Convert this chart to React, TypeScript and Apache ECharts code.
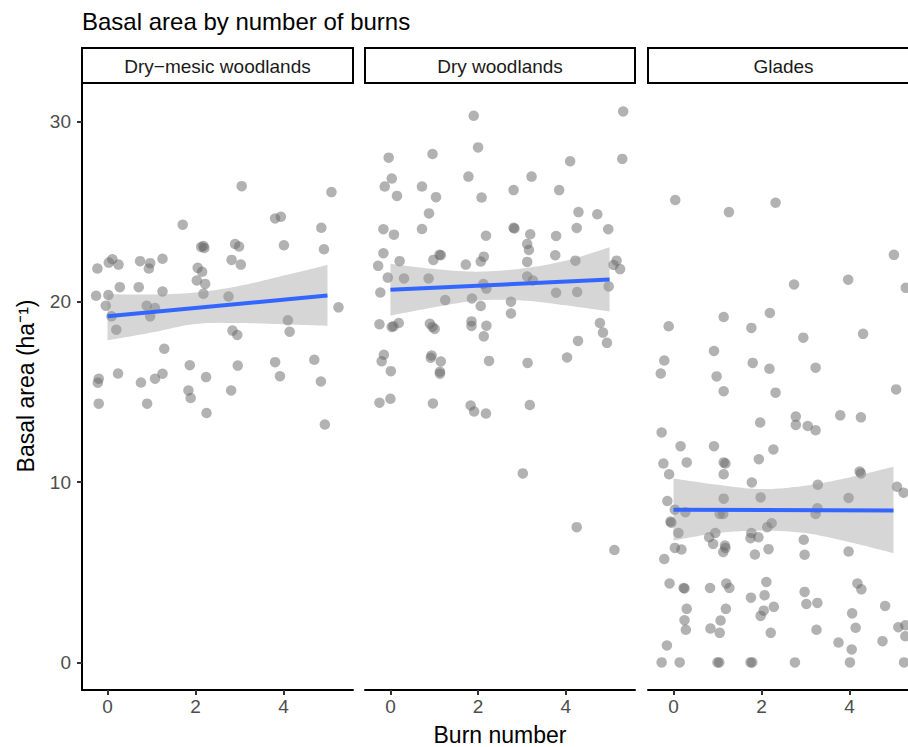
import React, { useEffect, useRef } from "react";
import * as echarts from "echarts";

// ---- Data ----
const panelNames = ["Dry−mesic woodlands", "Dry woodlands", "Glades"];
const xTicks = [0, 2, 4];
const yTicks = [0, 10, 20, 30];

// Dry-mesic woodlands
const burns1 = [3.05,5.09,1.71,3.81,3.94,4.86,2.13,2.18,2.20,2.90,2.99,4.01,4.92,-0.23,0.03,0.11,0.25,0.74,0.97,0.94,1.25,2.05,2.15,2.03,2.22,2.82,3.03,0.28,0.71,1.25,-0.26,0.02,2.18,2.75,-0.04,0.89,1.08,0.97,0.09,5.25,4.10,0.20,2.84,2.95,4.14,1.29,1.87,2.96,3.81,4.70,-0.20,-0.22,0.24,0.76,1.08,1.25,2.24,3.92,4.85,1.84,1.89,2.81,-0.20,0.90,2.25,4.94];
const basal1 = [26.41,26.08,24.27,24.62,24.71,24.10,23.04,23.09,22.98,23.20,23.06,23.13,22.91,21.84,22.17,22.36,22.06,22.25,22.14,21.84,22.38,21.88,21.66,21.18,20.99,22.32,22.06,20.81,20.81,20.57,20.33,20.37,20.44,20.29,19.78,19.78,19.65,19.19,19.19,19.69,18.97,18.45,18.40,18.16,18.34,17.39,16.48,16.46,16.65,16.78,15.73,15.51,16.02,15.52,15.73,16.01,15.82,15.87,15.58,15.08,14.66,15.08,14.35,14.35,13.83,13.19];

// Dry woodlands
const burns2 = [1.90,5.31,2.00,-0.04,0.96,5.29,4.10,0.03,-0.13,0.15,0.72,1.04,1.78,2.08,3.22,2.81,3.85,0.88,4.29,4.72,-0.16,0.08,0.72,2.18,2.81,2.83,3.19,3.78,4.25,4.97,3.12,3.16,-0.16,-0.28,0.21,0.98,1.12,1.15,1.72,2.06,2.13,3.12,3.76,4.22,5.09,5.16,5.24,-0.06,0.31,0.87,2.12,2.19,3.12,3.25,-0.23,1.25,1.86,2.06,2.75,2.75,3.78,4.26,4.98,-0.25,0.03,0.07,0.19,0.90,0.96,1.01,1.85,1.85,2.19,2.13,4.78,4.85,4.94,4.28,-0.15,-0.20,0.01,0.94,0.92,1.15,1.13,1.13,2.25,3.13,4.03,-0.25,0.00,0.97,1.83,1.91,2.18,3.18,3.02,4.25,5.11];
const basal2 = [30.31,30.55,28.56,27.99,28.19,27.92,27.79,26.83,26.39,25.87,26.39,25.80,26.94,25.78,26.94,26.19,26.19,24.90,24.97,24.85,24.02,23.72,24.03,23.66,24.10,24.06,23.74,23.65,24.09,24.02,23.20,22.87,22.69,21.99,22.25,22.32,22.61,22.58,22.06,22.23,22.50,22.21,22.58,22.28,22.04,22.28,21.81,21.34,21.29,21.29,20.98,20.73,21.40,21.18,20.51,20.09,20.18,19.76,20.00,19.35,20.50,20.54,20.85,18.75,18.60,18.64,18.82,18.78,18.60,18.49,18.91,18.66,18.67,18.08,18.82,18.29,17.72,17.83,17.06,16.70,16.15,17.02,16.89,16.69,16.12,16.01,16.72,16.61,16.91,14.40,14.62,14.36,14.25,13.91,13.80,14.27,10.48,7.50,6.23];

// Glades
const burns3 = [0.04,1.26,2.32,5.01,2.74,3.97,5.28,-0.11,1.14,1.77,2.19,2.95,4.31,0.92,-0.21,-0.29,0.98,1.14,1.80,2.18,3.23,2.32,5.06,-0.27,1.97,2.78,2.78,3.05,3.23,3.79,4.26,0.16,0.92,2.27,-0.23,0.30,1.14,1.18,1.94,-0.10,1.14,4.23,4.26,1.78,3.28,5.08,5.23,-0.14,1.14,1.98,3.98,0.03,0.27,1.05,1.13,3.27,3.23,-0.07,-0.05,0.11,0.95,0.81,0.90,1.77,1.75,1.93,2.23,2.13,1.17,1.18,1.13,0.03,0.18,-0.21,1.85,2.16,2.96,2.98,3.98,-0.09,0.23,0.25,0.83,1.20,1.27,2.11,1.76,2.07,2.98,3.02,3.27,4.18,4.27,0.30,1.19,2.05,1.98,2.28,4.81,4.06,0.25,0.28,1.07,0.84,1.05,2.21,3.25,4.14,5.11,5.27,5.27,-0.15,3.75,4.05,4.75,-0.27,0.14,1.00,1.04,1.75,1.79,2.76,4.01,5.24];
const basal3 = [25.64,24.97,25.49,22.60,20.96,21.22,20.77,18.64,19.15,18.55,19.38,18.01,18.22,17.27,16.74,16.02,15.86,15.04,16.61,16.28,16.34,14.96,15.14,12.75,13.30,13.63,13.17,13.11,12.87,13.70,13.59,11.99,11.99,11.81,11.03,11.09,11.09,11.03,11.27,10.43,10.43,10.59,10.48,9.98,9.85,9.74,9.41,8.95,9.08,9.15,9.12,8.47,8.33,8.23,8.23,8.55,8.23,7.81,7.75,7.18,7.18,6.94,6.57,7.18,6.89,6.94,7.72,7.50,6.48,6.34,6.12,6.35,6.26,5.73,5.98,6.28,6.80,5.97,6.15,4.38,4.13,4.10,4.13,4.38,4.13,4.46,3.59,3.72,3.91,3.24,3.30,4.38,4.05,2.97,2.97,2.87,2.58,3.08,3.13,2.72,2.34,1.81,2.32,1.88,1.64,1.64,1.81,1.92,1.95,2.06,1.45,0.94,1.10,0.72,1.18,0,0,0,0,0,0,0,0,0];

// Linear fits (lm) and 95% CI ribbons, read at burn number 0..5
const fitX = [0, 5];
const fit1 = [19.19, 20.35];
const fit2 = [20.66, 21.23];
const fit3 = [8.47, 8.43];
const ciX = [0, 1, 2, 3, 4, 5];
const upper1 = [20.42, 20.40, 20.51, 20.88, 21.45, 22.04];
const lower1 = [17.86, 18.29, 18.77, 18.82, 18.75, 18.67];
const upper2 = [22.10, 21.81, 21.67, 21.84, 22.28, 23.02];
const lower2 = [19.23, 19.69, 20.07, 20.07, 19.80, 19.46];
const upper3 = [10.20, 9.85, 9.61, 9.80, 10.26, 10.85];
const lower3 = [6.76, 7.17, 7.31, 7.17, 6.67, 6.06];

const FONT = "'Liberation Sans', Arial, Helvetica, sans-serif";

// Catmull-Rom sampling in pixel space, only to draw a smooth outline through the read points
function smoothPts(pts: number[][], n = 16): number[][] {
  const out: number[][] = [];
  for (let k = 0; k < pts.length - 1; k++) {
    const p0 = pts[Math.max(k - 1, 0)];
    const p1 = pts[k];
    const p2 = pts[k + 1];
    const p3 = pts[Math.min(k + 2, pts.length - 1)];
    for (let s = 0; s < n; s++) {
      const t = s / n;
      const t2 = t * t;
      const t3 = t2 * t;
      const f = (a: number, b: number, c: number, d: number) =>
        0.5 * (2 * b + (-a + c) * t + (2 * a - 5 * b + 4 * c - d) * t2 + (-a + 3 * b - 3 * c + d) * t3);
      out.push([f(p0[0], p1[0], p2[0], p3[0]), f(p0[1], p1[1], p2[1], p3[1])]);
    }
  }
  out.push(pts[pts.length - 1]);
  return out;
}

export default function App() {
  const ref = useRef<HTMLDivElement>(null);

  useEffect(() => {
    document.body.style.margin = "0";
    document.body.style.overflow = "hidden";
    document.documentElement.style.overflow = "hidden";
    if (!ref.current) return;
    const chart = echarts.init(ref.current, undefined, { renderer: "svg" });

    const panels = [
      { xs: burns1, ys: basal1, fit: fit1, up: upper1, lo: lower1 },
      { xs: burns2, ys: basal2, fit: fit2, up: upper2, lo: lower2 },
      { xs: burns3, ys: basal3, fit: fit3, up: upper3, lo: lower3 },
    ];
    const lefts = [82, 365, 648];
    const widths = [271, 270, 271];
    const top = 83;
    const height = 607;

    const series: any[] = [];
    panels.forEach((p, i) => {
      series.push({
        type: "scatter",
        xAxisIndex: i,
        yAxisIndex: i,
        data: p.xs.map((x, j) => [x, p.ys[j]]),
        symbolSize: 10.5,
        itemStyle: { color: "#666666", opacity: 0.5 },
        silent: true,
        z: 2,
      });
      series.push({
        type: "custom",
        xAxisIndex: i,
        yAxisIndex: i,
        data: ciX.map((x, j) => [x, p.lo[j], p.up[j]]),
        encode: { x: 0, y: [1, 2] },
        clip: true,
        silent: true,
        z: 3,
        renderItem: (params: any, api: any) => {
          if (params.dataIndex !== 0) return null;
          const upPts = ciX.map((x, j) => api.coord([x, p.up[j]]));
          const loPts = ciX.map((x, j) => api.coord([x, p.lo[j]]));
          const pts = smoothPts(upPts).concat(smoothPts(loPts).reverse());
          return {
            type: "polygon",
            shape: { points: pts },
            style: { fill: "rgba(153,153,153,0.4)", stroke: "none" },
          };
        },
      });
      series.push({
        type: "line",
        xAxisIndex: i,
        yAxisIndex: i,
        data: fitX.map((x, j) => [x, p.fit[j]]),
        symbol: "none",
        lineStyle: { color: "#3366FF", width: 4 },
        silent: true,
        z: 4,
      });
    });

    const graphics: any[] = [
      {
        type: "text",
        x: 82,
        y: 21,
        style: {
          text: "Basal area by number of burns",
          fontSize: 24,
          fontFamily: FONT,
          fill: "#000",
          align: "left",
          verticalAlign: "middle",
        },
      },
      {
        type: "text",
        x: 500,
        y: 735,
        style: {
          text: "Burn number",
          fontSize: 23,
          fontFamily: FONT,
          fill: "#000",
          align: "center",
          verticalAlign: "middle",
        },
      },
      {
        type: "text",
        x: 26,
        y: 386,
        rotation: Math.PI / 2,
        style: {
          text: "Basal area (ha⁻¹)",
          fontSize: 23,
          fontFamily: FONT,
          fill: "#000",
          align: "center",
          verticalAlign: "middle",
        },
      },
    ];
    panelNames.forEach((name, i) => {
      graphics.push({
        type: "rect",
        shape: { x: lefts[i], y: 48, width: widths[i], height: 35 },
        style: { fill: "#fff", stroke: "#000", lineWidth: 2 },
      });
      graphics.push({
        type: "text",
        x: lefts[i] + widths[i] / 2,
        y: 66,
        style: {
          text: name,
          fontSize: 19,
          fontFamily: FONT,
          fill: "#1a1a1a",
          align: "center",
          verticalAlign: "middle",
        },
      });
    });

    chart.setOption({
      animation: false,
      backgroundColor: "#ffffff",
      grid: lefts.map((l, i) => ({ left: l, top, width: widths[i], height })),
      xAxis: [0, 1, 2].map((i) => ({
        gridIndex: i,
        type: "value",
        min: -0.58,
        max: 5.58,
        z: 10,
        axisLine: { onZero: false, lineStyle: { color: "#000", width: 2 } },
        axisTick: { customValues: xTicks, length: 5, lineStyle: { color: "#333", width: 2 } },
        axisLabel: { customValues: xTicks, color: "#4d4d4d", fontSize: 19, margin: 7, fontFamily: FONT },
        splitLine: { show: false },
      })),
      yAxis: [0, 1, 2].map((i) => ({
        gridIndex: i,
        type: "value",
        min: -1.53,
        max: 32.13,
        show: i === 0,
        z: 10,
        axisLine: { show: true, onZero: false, lineStyle: { color: "#000", width: 2 } },
        axisTick: { show: true, customValues: yTicks, length: 5, lineStyle: { color: "#333", width: 2 } },
        axisLabel: { customValues: yTicks, color: "#4d4d4d", fontSize: 19, margin: 11, fontFamily: FONT },
        splitLine: { show: false },
      })),
      series,
      graphic: graphics,
    });

    return () => chart.dispose();
  }, []);

  return <div ref={ref} style={{ width: 921, height: 747 }} />;
}
